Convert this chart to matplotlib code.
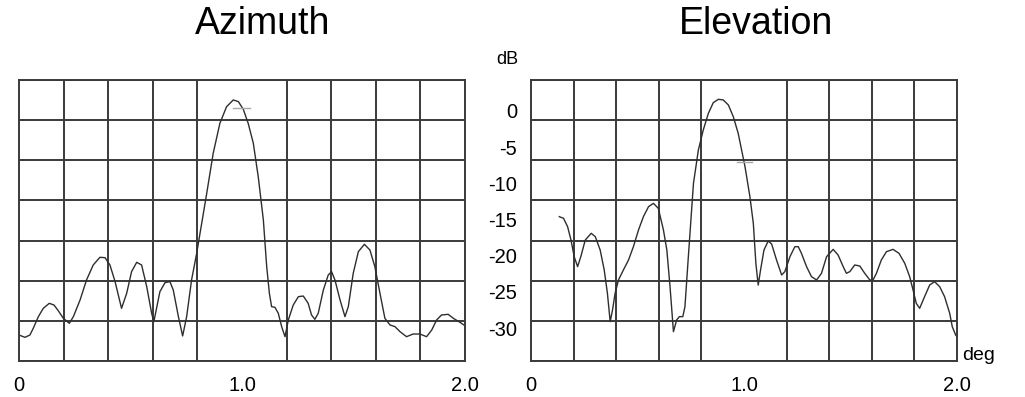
import numpy as np
import matplotlib
matplotlib.use('Agg')
import matplotlib.pyplot as plt

plt.rcParams['font.family'] = ['Liberation Sans', 'DejaVu Sans']

# antenna pattern, azimuth cut (deg, dB)
az_deg = [0.000, 0.027, 0.049, 0.064, 0.087, 0.109, 0.136, 0.157, 0.176, 0.199,
          0.226, 0.244, 0.274, 0.303, 0.333, 0.363, 0.386, 0.408, 0.431, 0.460,
          0.483, 0.505, 0.528, 0.550, 0.573, 0.595, 0.605, 0.617, 0.632, 0.655,
          0.677, 0.692, 0.715, 0.734, 0.752, 0.774, 0.797, 0.812, 0.842, 0.871,
          0.901, 0.931, 0.961, 0.984, 1.006, 1.028, 1.051, 1.073, 1.096, 1.111,
          1.123, 1.133, 1.148, 1.163, 1.178, 1.193, 1.208, 1.230, 1.253, 1.275,
          1.297, 1.312, 1.327, 1.342, 1.365, 1.387, 1.402, 1.417, 1.440, 1.462,
          1.477, 1.499, 1.522, 1.549, 1.574, 1.596, 1.619, 1.641, 1.664, 1.686,
          1.709, 1.738, 1.768, 1.798, 1.828, 1.851, 1.873, 1.895, 1.925, 1.948,
          1.978, 2.000]
az_db = [-30.97, -31.29, -30.97, -30.05, -28.43, -27.28, -26.59, -26.82, -27.60, -28.66,
         -29.35, -28.43, -26.13, -23.36, -21.29, -20.23, -20.28, -21.29, -23.59, -27.28,
         -25.21, -22.21, -20.92, -21.29, -24.29, -27.97, -29.12, -27.28, -24.98, -23.73,
         -23.59, -24.75, -28.43, -31.10, -28.43, -23.36, -19.68, -16.91, -11.39, -5.86,
         -1.71, 0.59, 1.52, 1.29, 0.23, -1.71, -4.47, -9.08, -15.07, -21.52,
         -25.21, -27.05, -27.14, -27.97, -29.81, -31.20, -28.89, -26.82, -25.67, -25.58,
         -26.59, -28.20, -28.80, -27.97, -24.75, -22.67, -22.21, -23.36, -26.13, -28.43,
         -27.05, -22.44, -19.45, -18.43, -19.22, -21.52, -25.21, -28.66, -29.58, -29.81,
         -30.51, -31.20, -30.83, -30.83, -31.20, -30.28, -28.89, -28.20, -28.11, -28.66,
         -29.22, -29.68]

# elevation cut (deg, dB)
el_deg = [0.133, 0.153, 0.172, 0.188, 0.203, 0.219, 0.234, 0.255, 0.283, 0.302,
          0.325, 0.344, 0.359, 0.372, 0.383, 0.395, 0.411, 0.434, 0.458, 0.481,
          0.505, 0.528, 0.552, 0.575, 0.598, 0.622, 0.638, 0.653, 0.669, 0.684,
          0.697, 0.713, 0.723, 0.739, 0.763, 0.786, 0.809, 0.833, 0.856, 0.880,
          0.903, 0.927, 0.950, 0.973, 0.989, 1.005, 1.028, 1.044, 1.056, 1.067,
          1.078, 1.094, 1.114, 1.130, 1.153, 1.177, 1.192, 1.216, 1.239, 1.255,
          1.270, 1.294, 1.317, 1.341, 1.364, 1.388, 1.419, 1.442, 1.466, 1.481,
          1.497, 1.520, 1.544, 1.567, 1.591, 1.606, 1.622, 1.645, 1.669, 1.700,
          1.728, 1.755, 1.778, 1.794, 1.809, 1.825, 1.848, 1.872, 1.895, 1.919,
          1.942, 1.966, 1.978, 1.994, 2.000]
el_db = [-14.61, -14.84, -15.99, -17.84, -20.14, -21.52, -20.14, -17.84, -16.91, -17.37,
         -19.22, -21.98, -25.21, -29.12, -27.51, -25.21, -23.36, -21.98, -20.60, -18.76,
         -16.45, -14.61, -13.23, -12.77, -13.46, -16.45, -19.22, -24.29, -30.51, -28.89,
         -28.43, -28.43, -27.05, -20.14, -10.00, -5.40, -2.63, -0.33, 1.15, 1.61,
         1.52, 0.82, -0.79, -3.09, -5.40, -7.70, -11.85, -15.53, -21.06, -24.06,
         -21.98, -19.22, -17.97, -18.39, -20.60, -22.67, -22.21, -20.14, -18.76, -18.76,
         -19.68, -21.52, -22.90, -23.36, -22.44, -20.14, -19.13, -19.91, -21.52, -22.44,
         -22.21, -21.29, -21.43, -22.44, -23.36, -23.36, -22.44, -20.60, -19.45, -19.13,
         -19.68, -21.06, -22.90, -24.75, -26.59, -27.28, -25.67, -24.06, -23.59, -24.29,
         -25.67, -27.97, -29.81, -30.97, -31.20]

# small cursor marks near the main lobe: (x0, x1, dB)
az_mark = (0.961, 1.036, 0.36)
el_mark = (0.966, 1.036, -7.10)

db_ticks = [0, -5, -10, -15, -20, -25, -30]
x_ticks = [0.0, 1.0, 2.0]
x_labels = ['0', '1.0', '2.0']

y_lo, y_hi = -34.56, 4.28
grid_col = '#3a3a3a'
line_col = '#2e2e2e'

fig = plt.figure(figsize=(10.25, 3.97), dpi=100)
ax1 = fig.add_axes([0.0185, 0.0907, 0.4351, 0.7078])
ax2 = fig.add_axes([0.5180, 0.0907, 0.4156, 0.7078])

for ax, x, y, mk in [(ax1, az_deg, az_db, az_mark), (ax2, el_deg, el_db, el_mark)]:
    ax.plot(x, y, color=line_col, lw=1.0)
    ax.plot(mk[:2], [mk[2], mk[2]], color='#a8a8a8', lw=1.0)
    ax.set_xlim(0, 2)
    ax.set_ylim(y_lo, y_hi)
    # 10 x 7 grid drawn from minor ticks, labels from major ticks
    ax.set_xticks(np.linspace(0, 2, 11), minor=True)
    ax.set_yticks(np.linspace(y_lo, y_hi, 8), minor=True)
    ax.grid(which='minor', color=grid_col, lw=1.4)
    ax.grid(which='major', visible=False)
    ax.set_xticks(x_ticks)
    ax.set_xticklabels(x_labels, fontsize=14.5)
    ax.tick_params(which='both', length=0)
    ax.tick_params(axis='x', pad=11)
    for s in ax.spines.values():
        s.set_color(grid_col)
        s.set_linewidth(1.4)

ax1.set_yticks([])
ax2.set_yticks(db_ticks)
ax2.set_yticklabels([str(v) for v in db_ticks], fontsize=14.5)
ax2.tick_params(axis='y', pad=10)

fig.text(263 / 1025, 1 - 24 / 397, 'Azimuth', fontsize=27, ha='center', va='center')
fig.text(756 / 1025, 1 - 24 / 397, 'Elevation', fontsize=27, ha='center', va='center')
fig.text(507 / 1025, 1 - 60 / 397, 'dB', fontsize=13, ha='center', va='center')
fig.text(962 / 1025, 1 - 355 / 397, 'deg', fontsize=14, ha='left', va='center')

fig.savefig('out.png', dpi=100)
